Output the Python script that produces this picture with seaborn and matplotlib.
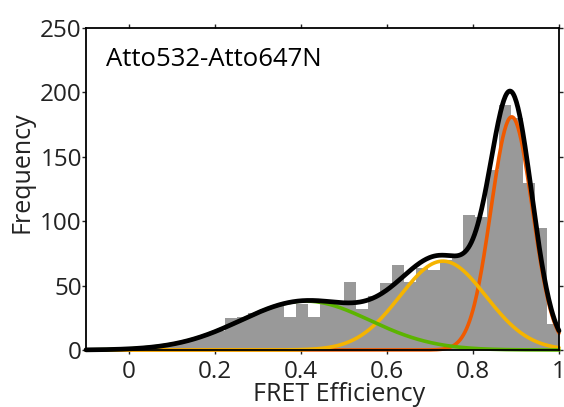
import numpy as np
import pandas as pd
import matplotlib
matplotlib.use("Agg")
import matplotlib.pyplot as plt
import seaborn as sns

# ---- data ----
bin_edges = [i / 36 for i in range(37)]
counts = [1, 2, 3, 4, 6, 9, 12, 15, 25, 26, 29, 32, 34, 26, 36, 26, 37, 37,
          53, 32, 42, 52, 66, 53, 64, 62, 70, 74, 105, 103, 140, 190, 180,
          130, 95, 20]

# Gaussian fit components: amplitude, centre, width
comp_names = ["low", "mid", "high"]
comp_amp = [38, 69, 181]
comp_mu = [0.41, 0.73, 0.89]
comp_sigma = [0.15, 0.10, 0.048]
comp_colors = ["#5cb400", "#f5b400", "#f05a00"]

label_text = "Atto532-Atto647N"
x_ticks = [0, 0.2, 0.4, 0.6, 0.8, 1.0]
x_ticklabels = ["0", "0.2", "0.4", "0.6", "0.8", "1"]
y_ticks = [0, 50, 100, 150, 200, 250]

# ---- figure ----
sns.set_style("white")
plt.rcParams["font.family"] = ["Open Sans", "DejaVu Sans"]

fig = plt.figure(figsize=(5.64, 4.07), dpi=100)
ax = fig.add_axes([86 / 564, 1 - 350 / 407, (559 - 86) / 564, (350 - 28) / 407])

centers = [(bin_edges[i] + bin_edges[i + 1]) / 2 for i in range(len(counts))]
hist_df = pd.DataFrame({"E": centers, "n": counts})
sns.histplot(data=hist_df, x="E", weights="n", bins=bin_edges, ax=ax,
             color="#999999", alpha=1.0, edgecolor="none", linewidth=0)

xs = np.linspace(-0.1, 1.0, 600)
total = np.zeros_like(xs)
comps = {}
for name, a, m, s in zip(comp_names, comp_amp, comp_mu, comp_sigma):
    y = a * np.exp(-(xs - m) ** 2 / (2 * s ** 2))
    comps[name] = y
    total += y

order = ["high", "mid", "low"]
for name in order:
    i = comp_names.index(name)
    sns.lineplot(x=xs, y=comps[name], ax=ax, color=comp_colors[i],
                 linewidth=2.6, zorder=3, clip_on=False)
sns.lineplot(x=xs, y=total, ax=ax, color="black", linewidth=3.4, zorder=4,
             clip_on=False)

ax.set_xlim(-0.1, 1.0)
ax.set_ylim(0, 250)
ax.set_xticks(x_ticks)
ax.set_xticklabels(x_ticklabels)
ax.set_yticks(y_ticks)

for sp in ax.spines.values():
    sp.set_visible(True)
    sp.set_color("black")
    sp.set_linewidth(1.3)
    sp.set_zorder(5)

ax.tick_params(axis="both", which="both", direction="out", length=3,
               width=1.0, colors="#222222", labelsize=17.5,
               top=True, right=True, bottom=True, left=True,
               labeltop=False, labelright=False)
ax.tick_params(axis="x", pad=4)
ax.tick_params(axis="y", pad=0)

ax.set_xlabel("FRET Efficiency", fontsize=18, color="#222222")
ax.set_ylabel("Frequency", fontsize=18, color="#222222")
ax.xaxis.set_label_coords(0.534, -0.10, transform=ax.transAxes)
ax.yaxis.set_label_coords(-0.108, 0.553, transform=ax.transAxes)
ax.xaxis.label.set_va("top")

ax.text(0.042, 0.902, label_text, transform=ax.transAxes, fontsize=18.5,
        color="black", va="center", ha="left")

fig.savefig("out.png", dpi=100)
